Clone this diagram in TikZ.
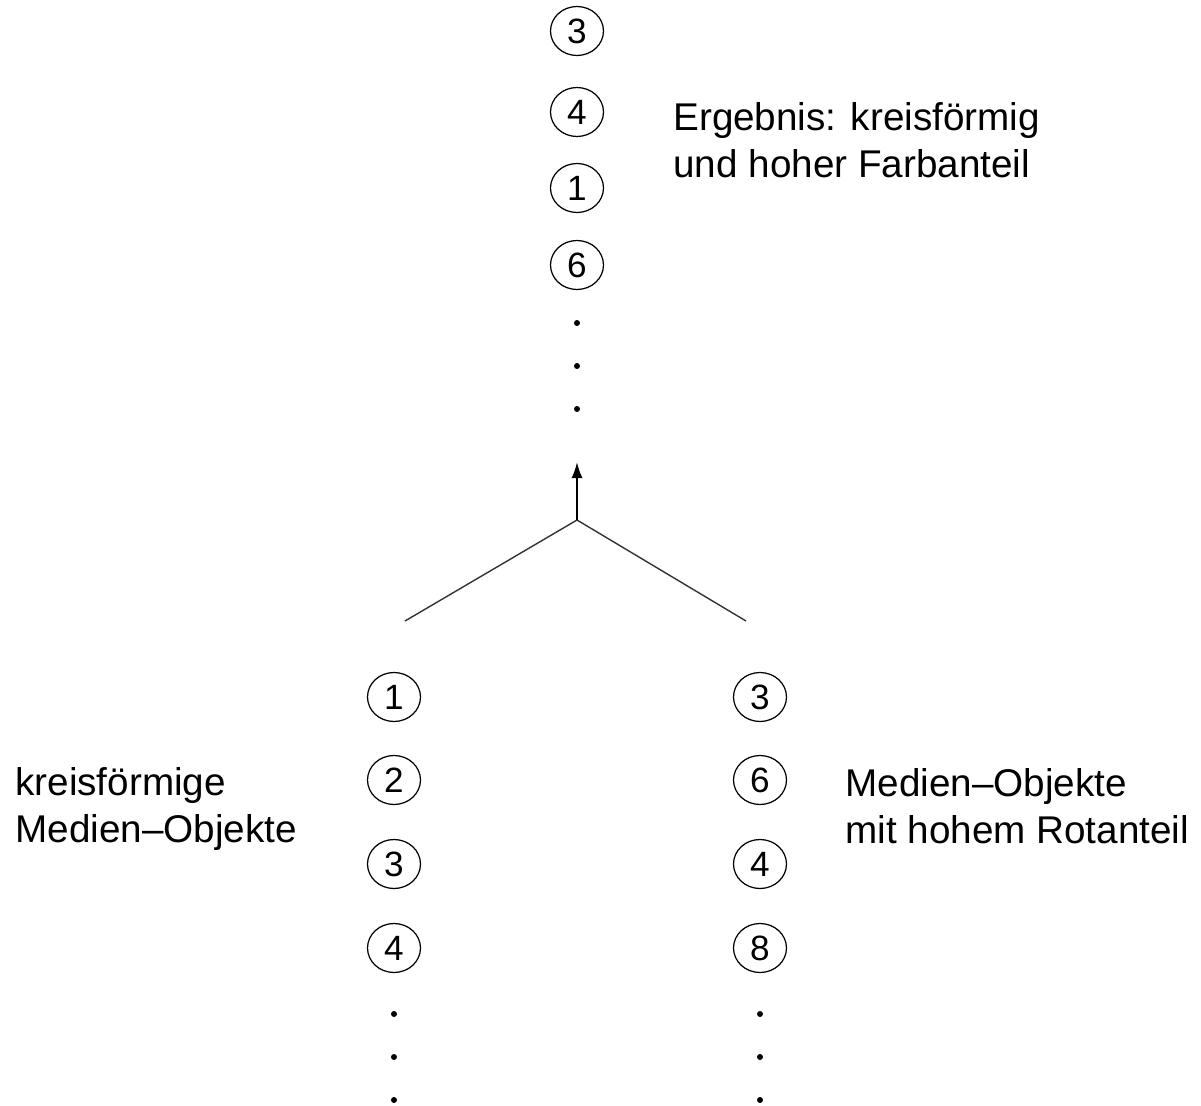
\documentclass[tikz,border=0pt]{standalone}
\usepackage{fontspec}
\setmainfont{Liberation Sans}
\usetikzlibrary{arrows.meta,shapes.geometric}
\tikzset{
  num/.style={draw, ellipse, line width=0.7pt, inner sep=0pt, minimum width=1.06cm, minimum height=0.98cm, font=\fontsize{20}{20}\selectfont},
  lbl/.style={anchor=west, align=left, inner sep=0pt, font=\fontsize{22}{26.5}\selectfont},
  dotmark/.style={circle, fill=black, inner sep=0pt, minimum size=0.12cm},
  branch/.style={line width=0.8pt, draw=black!80},
  up/.style={line width=1.1pt, -{Latex[length=0.32cm,width=0.22cm]}}
}
\begin{document}
\begin{tikzpicture}[x=0.02cm,y=-0.02cm]
\useasboundingbox (0,0) rectangle (1201,1106);
% top column
\node[num] (t1) at (577,31) {3};
\node[num] (t2) at (577,112) {4};
\node[num] (t3) at (577,188) {1};
\node[num] (t4) at (577,265) {6};
\node[dotmark] (td1) at (577,323) {};
\node[dotmark] (td2) at (577,366) {};
\node[dotmark] (td3) at (577,409) {};
\node[lbl] (res) at (673,140) {Ergebnis: kreisförmig\\und hoher Farbanteil};
% connectors
\coordinate (j) at (577,520);
\coordinate (tip) at (577,462);
\coordinate (lend) at (405,621);
\coordinate (rend) at (746,621);
\draw[branch] (lend) -- (j) -- (rend);
\draw[up] (j) -- (tip);
% left column
\node[num] (l1) at (394,697) {1};
\node[num] (l2) at (394,780) {2};
\node[num] (l3) at (394,864) {3};
\node[num] (l4) at (394,948) {4};
\node[dotmark] (ld1) at (394,1014) {};
\node[dotmark] (ld2) at (394,1057) {};
\node[dotmark] (ld3) at (394,1100) {};
\node[lbl] (ltext) at (15,809) {kreisförmige\\Medien--Objekte};
% right column
\node[num] (r1) at (760,697) {3};
\node[num] (r2) at (760,780) {6};
\node[num] (r3) at (760,864) {4};
\node[num] (r4) at (760,948) {8};
\node[dotmark] (rd1) at (760,1014) {};
\node[dotmark] (rd2) at (760,1057) {};
\node[dotmark] (rd3) at (760,1100) {};
\node[lbl] (rtext) at (845,806) {Medien--Objekte\\mit hohem Rotanteil};
\end{tikzpicture}
\end{document}
